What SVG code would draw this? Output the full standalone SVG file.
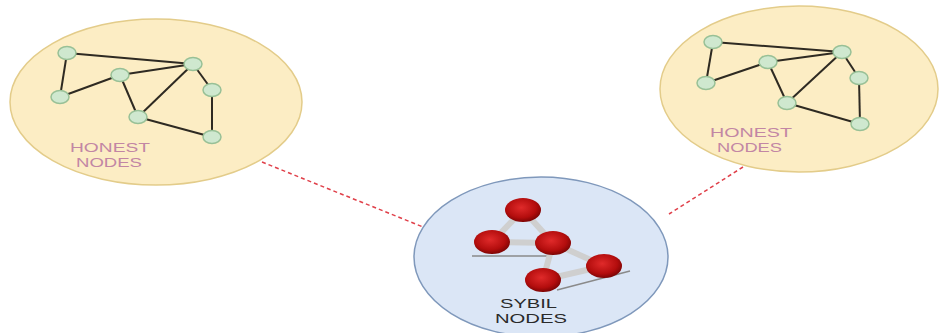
<svg xmlns="http://www.w3.org/2000/svg" width="940" height="333" viewBox="0 0 940 333">
<style>
.honest{fill:#fcedc4;stroke:#e3cc8a;stroke-width:1.5}
.sybil{fill:#dbe6f6;stroke:#7f98bb;stroke-width:1.5}
.hn{fill:#cfe8cf;stroke:#98c096;stroke-width:1.5}
.he{stroke:#2e2a22;stroke-width:2;fill:none}
.se{stroke:#cfcfcf;stroke-width:6;fill:none}
.sh{stroke:#8a8a8a;stroke-width:1.5;fill:none}
.sn{fill:url(#rg)}
.lbl{font-family:"Liberation Sans",Arial,sans-serif;font-size:13px}
.pink{fill:#c286a4}
.dark{fill:#2a2a2a;font-size:13.5px}
.link{stroke:#e0404a;stroke-width:1.5;stroke-dasharray:4 3;fill:none}
</style>
<defs>
<radialGradient id="rg" cx="0.45" cy="0.4" r="0.6">
<stop offset="0" stop-color="#e02a2a"/>
<stop offset="0.7" stop-color="#b30d0d"/>
<stop offset="1" stop-color="#7d0505"/>
</radialGradient>
</defs>
<rect width="940" height="333" fill="#ffffff"/>
<g id="connectors">
<line class="link" x1="262" y1="162" x2="423" y2="227"/>
<line class="link" x1="743" y1="167" x2="669" y2="214"/>
</g>
<g id="honest-left">
<ellipse class="honest" cx="156" cy="102" rx="146" ry="83"/>
<g class="he">
<line x1="67" y1="53" x2="193" y2="64"/>
<line x1="67" y1="53" x2="60" y2="97"/>
<line x1="60" y1="97" x2="120" y2="75"/>
<line x1="120" y1="75" x2="193" y2="64"/>
<line x1="120" y1="75" x2="138" y2="117"/>
<line x1="138" y1="117" x2="193" y2="64"/>
<line x1="193" y1="64" x2="212" y2="90"/>
<line x1="212" y1="90" x2="212" y2="137"/>
<line x1="138" y1="117" x2="212" y2="137"/>
</g>
<ellipse class="hn" cx="67" cy="53" rx="9" ry="6.5"/>
<ellipse class="hn" cx="193" cy="64" rx="9" ry="6.5"/>
<ellipse class="hn" cx="120" cy="75" rx="9" ry="6.5"/>
<ellipse class="hn" cx="60" cy="97" rx="9" ry="6.5"/>
<ellipse class="hn" cx="212" cy="90" rx="9" ry="6.5"/>
<ellipse class="hn" cx="138" cy="117" rx="9" ry="6.5"/>
<ellipse class="hn" cx="212" cy="137" rx="9" ry="6.5"/>
<text class="lbl pink" x="70" y="152" textLength="80" lengthAdjust="spacingAndGlyphs">HONEST</text>
<text class="lbl pink" x="76" y="167" textLength="66" lengthAdjust="spacingAndGlyphs">NODES</text>
</g>
<g id="honest-right">
<ellipse class="honest" cx="799" cy="89" rx="139" ry="83"/>
<g class="he">
<line x1="713" y1="42" x2="842" y2="52"/>
<line x1="713" y1="42" x2="706" y2="83"/>
<line x1="706" y1="83" x2="768" y2="62"/>
<line x1="768" y1="62" x2="842" y2="52"/>
<line x1="768" y1="62" x2="787" y2="103"/>
<line x1="787" y1="103" x2="842" y2="52"/>
<line x1="842" y1="52" x2="859" y2="78"/>
<line x1="859" y1="78" x2="860" y2="124"/>
<line x1="787" y1="103" x2="860" y2="124"/>
</g>
<ellipse class="hn" cx="713" cy="42" rx="9" ry="6.5"/>
<ellipse class="hn" cx="842" cy="52" rx="9" ry="6.5"/>
<ellipse class="hn" cx="768" cy="62" rx="9" ry="6.5"/>
<ellipse class="hn" cx="706" cy="83" rx="9" ry="6.5"/>
<ellipse class="hn" cx="859" cy="78" rx="9" ry="6.5"/>
<ellipse class="hn" cx="787" cy="103" rx="9" ry="6.5"/>
<ellipse class="hn" cx="860" cy="124" rx="9" ry="6.5"/>
<text class="lbl pink" x="710" y="137" textLength="82" lengthAdjust="spacingAndGlyphs">HONEST</text>
<text class="lbl pink" x="717" y="152" textLength="65" lengthAdjust="spacingAndGlyphs">NODES</text>
</g>
<g id="sybil">
<ellipse class="sybil" cx="541" cy="257" rx="127" ry="80"/>
<line class="sh" x1="472" y1="256" x2="552" y2="256"/>
<line class="sh" x1="557" y1="290" x2="630" y2="271"/>
<g class="se">
<line x1="523" y1="210" x2="492" y2="242"/>
<line x1="523" y1="210" x2="553" y2="243"/>
<line x1="492" y1="242" x2="553" y2="243"/>
<line x1="553" y1="243" x2="604" y2="266"/>
<line x1="553" y1="243" x2="543" y2="280"/>
<line x1="543" y1="280" x2="604" y2="266"/>
</g>
<ellipse class="sn" cx="523" cy="210" rx="18" ry="12"/>
<ellipse class="sn" cx="492" cy="242" rx="18" ry="12"/>
<ellipse class="sn" cx="553" cy="243" rx="18" ry="12"/>
<ellipse class="sn" cx="604" cy="266" rx="18" ry="12"/>
<ellipse class="sn" cx="543" cy="280" rx="18" ry="12"/>
<text class="lbl dark" x="500" y="308" textLength="57" lengthAdjust="spacingAndGlyphs">SYBIL</text>
<text class="lbl dark" x="495" y="323" textLength="72" lengthAdjust="spacingAndGlyphs">NODES</text>
</g>
</svg>
